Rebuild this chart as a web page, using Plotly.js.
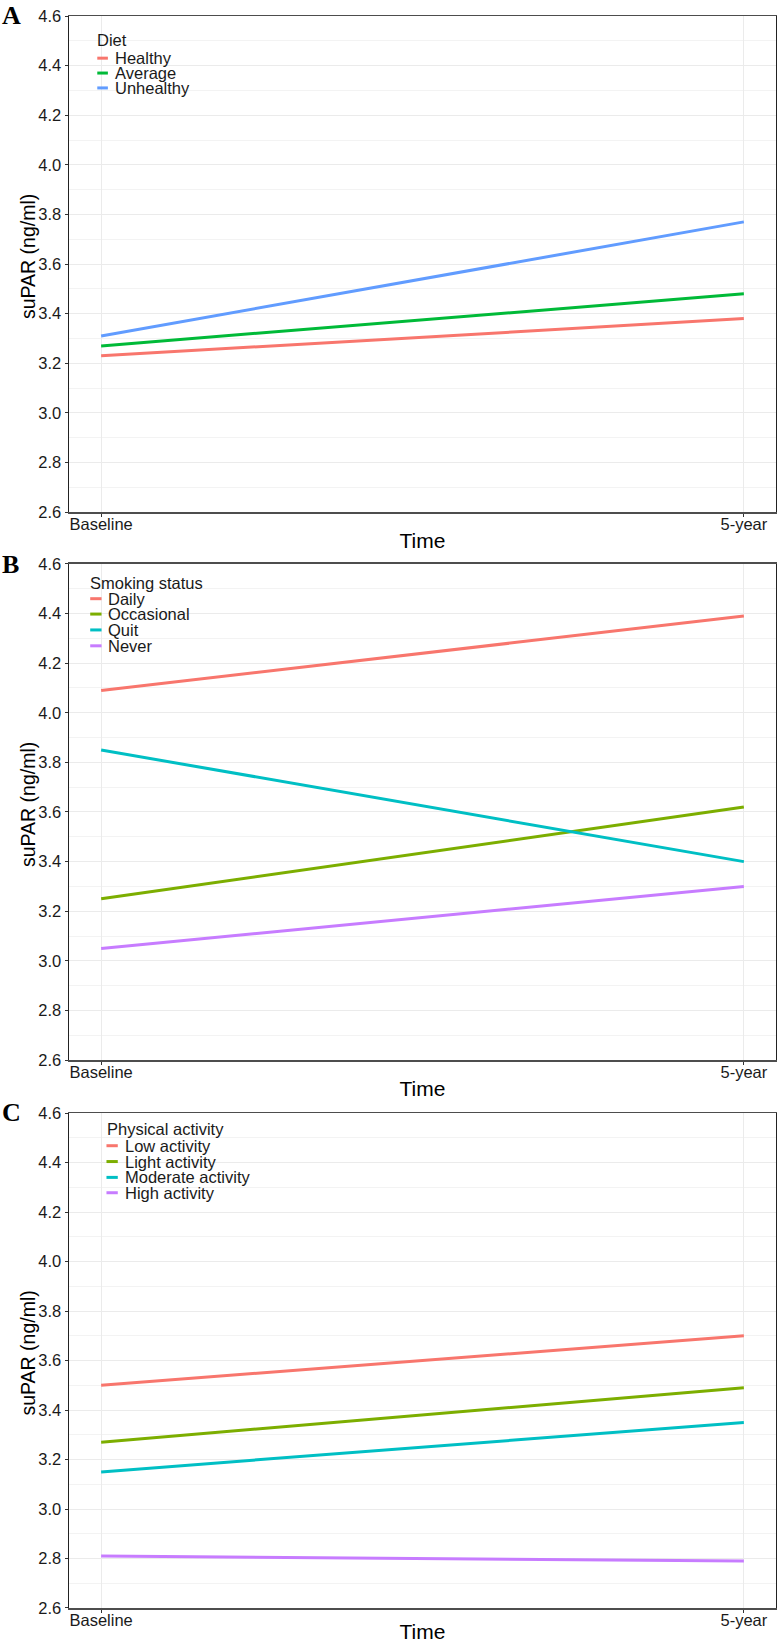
<!DOCTYPE html>
<html>
<head>
<meta charset="utf-8">
<script src="https://cdn.plot.ly/plotly-3.0.1.min.js"></script>
<style>html,body{margin:0;padding:0;background:#fff;}#chart{width:777px;height:1643px;}</style>
</head>
<body>
<div id="chart"></div>
<script>
// ---- data ----
const timeLabels = ['Baseline', '5-year'];

const dietNames = ['Healthy', 'Average', 'Unhealthy'];
const dietHealthy = [3.23, 3.38];
const dietAverage = [3.27, 3.48];
const dietUnhealthy = [3.31, 3.77];

const smokeNames = ['Daily', 'Occasional', 'Quit', 'Never'];
const smokeDaily = [4.09, 4.39];
const smokeOccasional = [3.25, 3.62];
const smokeQuit = [3.85, 3.40];
const smokeNever = [3.05, 3.30];

const actNames = ['Low activity', 'Light activity', 'Moderate activity', 'High activity'];
const actLow = [3.50, 3.70];
const actLight = [3.27, 3.49];
const actModerate = [3.15, 3.35];
const actHigh = [2.81, 2.79];

const panelLetters = ['A', 'B', 'C'];
const legendTitles = ['Diet', 'Smoking status', 'Physical activity'];
const yTitle = 'suPAR (ng/ml)';
const xTitle = 'Time';

// ---- styles ----
const col3 = ['#F8766D', '#00BA38', '#619CFF'];
const col4 = ['#F8766D', '#7CAE00', '#00BFC4', '#C77CFF'];
const FONT = 'Liberation Sans, Arial, Helvetica, sans-serif';

const panels = [
  {names: dietNames, series: [dietHealthy, dietAverage, dietUnhealthy], colors: col3,
   leg: {titleX: 0.037, titleY: 0.952, lineX0: 0.040, lineX1: 0.055, textX: 0.062, ys: [0.915, 0.885, 0.855]},
   letterY: 1.002},
  {names: smokeNames, series: [smokeDaily, smokeOccasional, smokeQuit, smokeNever], colors: col4,
   leg: {titleX: 0.027, titleY: 0.962, lineX0: 0.030, lineX1: 0.046, textX: 0.052, ys: [0.930, 0.899, 0.867, 0.835]},
   letterY: 0.998},
  {names: actNames, series: [actLow, actLight, actModerate, actHigh], colors: col4,
   leg: {titleX: 0.051, titleY: 0.968, lineX0: 0.053, lineX1: 0.069, textX: 0.076, ys: [0.934, 0.902, 0.870, 0.839]},
   letterY: 1.002}
];

const domains = [[0.6884, 1.0], [0.3442, 0.6558], [0.0, 0.3109]];

const data = [];
const layout = {
  width: 777, height: 1643,
  margin: {l: 69, r: 1, t: 16, b: 35},
  paper_bgcolor: '#ffffff', plot_bgcolor: '#ffffff',
  showlegend: false,
  font: {family: FONT, size: 16.5, color: '#1a1a1a'},
  annotations: [], shapes: []
};

panels.forEach((p, i) => {
  const sfx = i === 0 ? '' : String(i + 1);
  const xa = 'x' + sfx, ya = 'y' + sfx;
  p.series.forEach((vals, j) => {
    data.push({
      type: 'scatter', mode: 'lines', x: timeLabels, y: vals, name: p.names[j],
      xaxis: xa, yaxis: ya, line: {color: p.colors[j], width: 3}, hoverinfo: 'x+y+name'
    });
  });
  layout['xaxis' + sfx] = {
    domain: [0, 1], anchor: ya, type: 'category', range: [-0.05, 1.05],
    showgrid: true, gridcolor: '#ebebeb', gridwidth: 1,
    showline: true, linecolor: '#4d4d4d', linewidth: 1.5, mirror: true,
    ticks: 'outside', ticklen: 3, tickcolor: '#333', zeroline: false,
    ticklabelstandoff: -6,
    tickfont: {family: FONT, size: 16.5, color: '#1a1a1a'},
    title: {text: xTitle, font: {family: FONT, size: 21, color: '#000'}, standoff: 1},
    automargin: false, fixedrange: true
  };
  layout['yaxis' + sfx] = {
    domain: domains[i], anchor: xa, range: [2.6, 4.6], dtick: 0.2, tick0: 2.6, tickformat: '.1f',
    showgrid: true, gridcolor: '#ebebeb', gridwidth: 1,
    minor: {dtick: 0.1, showgrid: true, gridcolor: '#f3f3f3', gridwidth: 1},
    showline: true, linecolor: '#222', linewidth: 1.5, mirror: true,
    ticks: 'outside', ticklen: 3, tickcolor: '#333', zeroline: false,
    tickfont: {family: FONT, size: 16.5, color: '#1a1a1a'},
    automargin: false, fixedrange: true
  };
  // y axis title (slightly above panel centre, as in the original)
  layout.annotations.push({
    text: yTitle, xref: 'paper', yref: ya + ' domain', x: -0.058, y: 0.516,
    xanchor: 'center', yanchor: 'middle', textangle: -90, showarrow: false,
    font: {family: FONT, size: 19.5, color: '#000'}
  });
  // panel letter
  layout.annotations.push({
    text: '<b>' + panelLetters[i] + '</b>', xref: 'paper', yref: ya + ' domain',
    x: -0.0976, y: p.letterY, xanchor: 'left', yanchor: 'middle', showarrow: false,
    font: {family: 'Liberation Serif, Times New Roman, serif', size: 26, color: '#000'}
  });
  // legend title
  layout.annotations.push({
    text: legendTitles[i], xref: xa + ' domain', yref: ya + ' domain',
    x: p.leg.titleX, y: p.leg.titleY, xanchor: 'left', yanchor: 'middle', showarrow: false,
    font: {family: FONT, size: 16.5, color: '#1a1a1a'}
  });
  p.names.forEach((nm, j) => {
    layout.annotations.push({
      text: nm, xref: xa + ' domain', yref: ya + ' domain',
      x: p.leg.textX, y: p.leg.ys[j], xanchor: 'left', yanchor: 'middle', showarrow: false,
      font: {family: FONT, size: 16.5, color: '#1a1a1a'}
    });
    layout.shapes.push({
      type: 'line', xref: xa + ' domain', yref: ya + ' domain',
      x0: p.leg.lineX0, x1: p.leg.lineX1, y0: p.leg.ys[j], y1: p.leg.ys[j],
      line: {color: p.colors[j], width: 3}
    });
  });
});

Plotly.newPlot('chart', data, layout, {displayModeBar: false, staticPlot: true});
</script>
</body>
</html>
